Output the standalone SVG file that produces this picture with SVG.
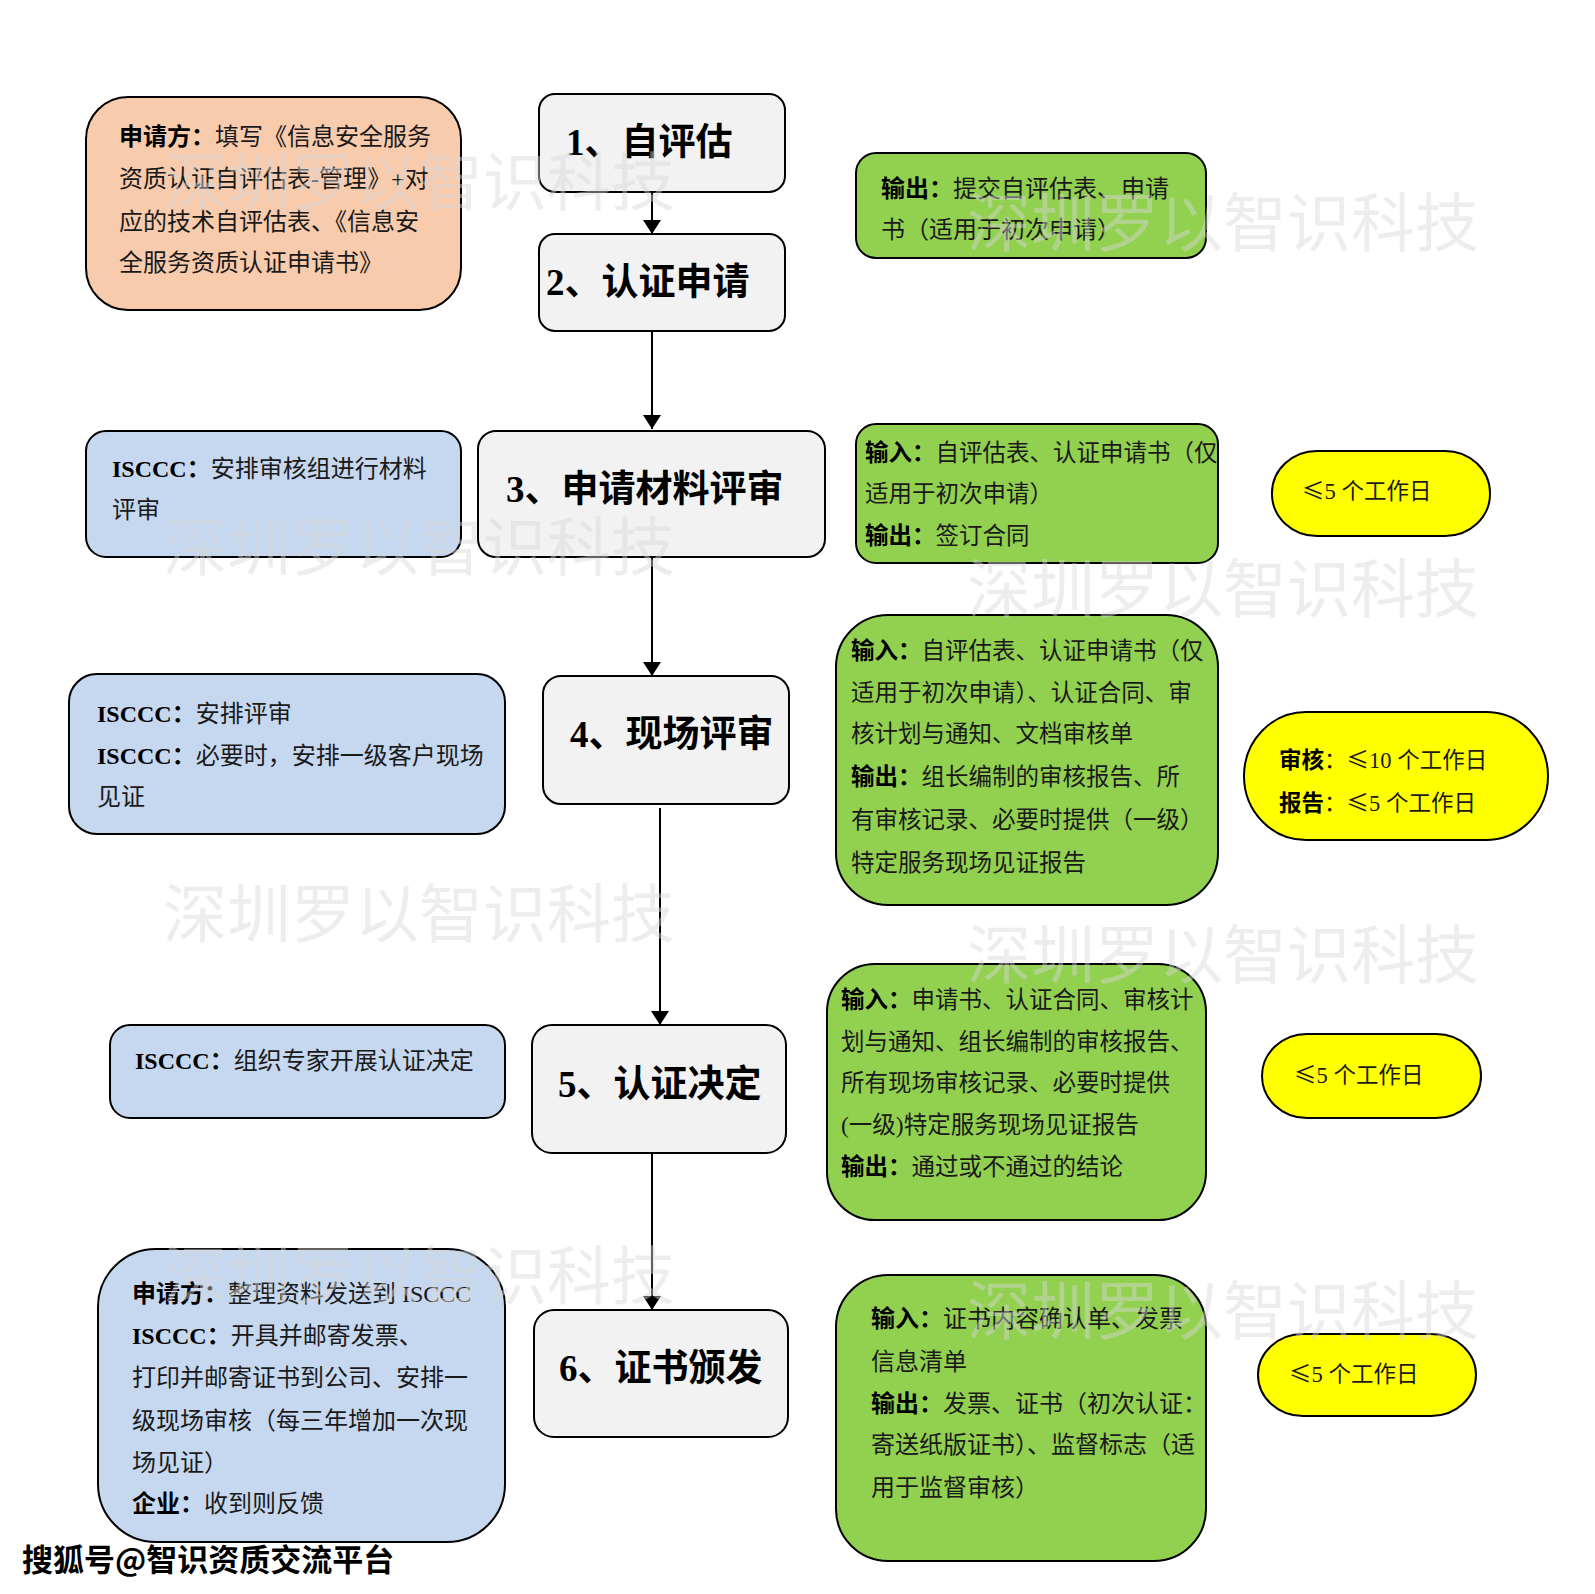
<svg xmlns="http://www.w3.org/2000/svg" width="1595" height="1594" viewBox="0 0 1595 1594">
<defs>
<style>
.bx{stroke:#000;stroke-width:2}
.gray{fill:#F2F2F2}
.org{fill:#F8CBAD}
.blu{fill:#C6D8EF}
.grn{fill:#92D050}
.yel{fill:#FFFF00}
.t{font-family:"Liberation Serif","Noto Sans CJK SC",serif;font-size:24px;fill:#1a1a1a}
.y{font-size:22.5px}
.le{font-family:"Noto Sans CJK SC",sans-serif}
.b{font-weight:bold;fill:#000}
.ttl{font-family:"Liberation Serif","Noto Sans CJK SC",serif;font-size:37px;font-weight:bold;fill:#000}
.wm{font-family:"Noto Sans CJK SC",sans-serif;font-size:64px;fill:#d6d6d6;fill-opacity:0.45}
.ft{font-family:"Noto Sans CJK SC",sans-serif;font-size:31px;font-weight:bold;fill:#000;stroke:#fff;stroke-width:1.2;paint-order:stroke}
.ln{stroke:#000;stroke-width:2;fill:none}
</style>
<marker id="ah" viewBox="0 0 14 18" refX="14" refY="9" markerWidth="14" markerHeight="18" markerUnits="userSpaceOnUse" orient="auto">
<path d="M0,0 L14,9 L0,18 Z" fill="#000"/>
</marker>
</defs>
<rect width="1595" height="1594" fill="#fff"/>

<g id="connectors">
<line class="ln" x1="652" y1="192" x2="652" y2="234" marker-end="url(#ah)"/>
<line class="ln" x1="652" y1="331" x2="652" y2="429" marker-end="url(#ah)"/>
<line class="ln" x1="652" y1="557" x2="652" y2="676" marker-end="url(#ah)"/>
<line class="ln" x1="660" y1="808" x2="660" y2="1025" marker-end="url(#ah)"/>
<line class="ln" x1="652" y1="1153" x2="652" y2="1310" marker-end="url(#ah)"/>
</g>

<g id="n-apply-note">
<rect class="bx org" x="86" y="97" width="375" height="213" rx="42"/>
<text class="t" x="119" y="145"><tspan class="b">申请方：</tspan>填写《信息安全服务</text>
<text class="t" x="119" y="187">资质认证自评估表-管理》+对</text>
<text class="t" x="119" y="230">应的技术自评估表、《信息安</text>
<text class="t" x="119" y="271">全服务资质认证申请书》</text>
</g>

<g id="n-step1">
<rect class="bx gray" x="539" y="94" width="246" height="98" rx="16"/>
<text class="ttl" x="566" y="155">1、自评估</text>
</g>

<g id="n-step2">
<rect class="bx gray" x="539" y="234" width="246" height="97" rx="16"/>
<text class="ttl" x="546" y="295">2、认证申请</text>
</g>

<g id="n-out1">
<rect class="bx grn" x="856" y="153" width="350" height="105" rx="20"/>
<text class="t" x="881" y="197"><tspan class="b">输出：</tspan>提交自评估表、申请</text>
<text class="t" x="881" y="238">书（适用于初次申请）</text>
</g>

<g id="n-isccc3">
<rect class="bx blu" x="86" y="431" width="375" height="126" rx="20"/>
<text class="t" x="112" y="477"><tspan class="b">ISCCC：</tspan>安排审核组进行材料</text>
<text class="t" x="112" y="518">评审</text>
</g>

<g id="n-step3">
<rect class="bx gray" x="478" y="431" width="347" height="126" rx="18"/>
<text class="ttl" x="506" y="502">3、申请材料评审</text>
</g>

<g id="n-io3">
<rect class="bx grn" x="856" y="424" width="362" height="139" rx="20"/>
<text class="t" x="865" y="461" style="font-size:23.5px"><tspan class="b">输入：</tspan>自评估表、认证申请书（仅</text>
<text class="t" x="865" y="502" style="font-size:23.5px">适用于初次申请）</text>
<text class="t" x="865" y="544" style="font-size:23.5px"><tspan class="b">输出：</tspan>签订合同</text>
</g>

<g id="n-time3">
<rect class="bx yel" x="1272" y="451" width="218" height="85" rx="45" ry="42"/>
<text class="t y" x="1302" y="499"><tspan class="le">≤</tspan>5 个工作日</text>
</g>

<g id="n-isccc4">
<rect class="bx blu" x="69" y="674" width="436" height="160" rx="28"/>
<text class="t" x="97" y="722"><tspan class="b">ISCCC：</tspan>安排评审</text>
<text class="t" x="97" y="764"><tspan class="b">ISCCC：</tspan>必要时，安排一级客户现场</text>
<text class="t" x="97" y="805">见证</text>
</g>

<g id="n-step4">
<rect class="bx gray" x="543" y="676" width="246" height="128" rx="18"/>
<text class="ttl" x="570" y="747">4、现场评审</text>
</g>

<g id="n-io4">
<rect class="bx grn" x="836" y="615" width="382" height="290" rx="52"/>
<text class="t" x="851" y="659" style="font-size:23.5px"><tspan class="b">输入：</tspan>自评估表、认证申请书（仅</text>
<text class="t" x="851" y="701" style="font-size:23.5px">适用于初次申请）、认证合同、审</text>
<text class="t" x="851" y="742" style="font-size:23.5px">核计划与通知、文档审核单</text>
<text class="t" x="851" y="785" style="font-size:23.5px"><tspan class="b">输出：</tspan>组长编制的审核报告、所</text>
<text class="t" x="851" y="828" style="font-size:23.5px">有审核记录、必要时提供（一级）</text>
<text class="t" x="851" y="871" style="font-size:23.5px">特定服务现场见证报告</text>
</g>

<g id="n-time4">
<rect class="bx yel" x="1244" y="712" width="304" height="128" rx="62" ry="64"/>
<text class="t y" x="1279" y="768"><tspan class="b">审核</tspan>：<tspan class="le">≤</tspan>10 个工作日</text>
<text class="t y" x="1279" y="811"><tspan class="b">报告</tspan>：<tspan class="le">≤</tspan>5 个工作日</text>
</g>

<g id="n-isccc5">
<rect class="bx blu" x="110" y="1025" width="395" height="93" rx="20"/>
<text class="t" x="135" y="1069"><tspan class="b">ISCCC：</tspan>组织专家开展认证决定</text>
</g>

<g id="n-step5">
<rect class="bx gray" x="532" y="1025" width="254" height="128" rx="20"/>
<text class="ttl" x="558" y="1097">5、认证决定</text>
</g>

<g id="n-io5">
<rect class="bx grn" x="827" y="964" width="379" height="256" rx="48"/>
<text class="t" x="841" y="1008" style="font-size:23.5px"><tspan class="b">输入：</tspan>申请书、认证合同、审核计</text>
<text class="t" x="841" y="1050" style="font-size:23.5px">划与通知、组长编制的审核报告、</text>
<text class="t" x="841" y="1091" style="font-size:23.5px">所有现场审核记录、必要时提供</text>
<text class="t" x="841" y="1133" style="font-size:23.5px">(一级)特定服务现场见证报告</text>
<text class="t" x="841" y="1175" style="font-size:23.5px"><tspan class="b">输出：</tspan>通过或不通过的结论</text>
</g>

<g id="n-time5">
<rect class="bx yel" x="1262" y="1034" width="219" height="84" rx="45" ry="42"/>
<text class="t y" x="1294" y="1083"><tspan class="le">≤</tspan>5 个工作日</text>
</g>

<g id="n-party6">
<rect class="bx blu" x="98" y="1249" width="407" height="293" rx="58"/>
<text class="t" x="132" y="1302"><tspan class="b">申请方：</tspan>整理资料发送到 ISCCC</text>
<text class="t" x="132" y="1344"><tspan class="b">ISCCC：</tspan>开具并邮寄发票、</text>
<text class="t" x="132" y="1386">打印并邮寄证书到公司、安排一</text>
<text class="t" x="132" y="1429">级现场审核（每三年增加一次现</text>
<text class="t" x="132" y="1471">场见证）</text>
<text class="t" x="132" y="1512"><tspan class="b">企业：</tspan>收到则反馈</text>
</g>

<g id="n-step6">
<rect class="bx gray" x="534" y="1310" width="254" height="127" rx="20"/>
<text class="ttl" x="559" y="1381">6、证书颁发</text>
</g>

<g id="n-io6">
<rect class="bx grn" x="836" y="1275" width="370" height="286" rx="52"/>
<text class="t" x="871" y="1327"><tspan class="b">输入：</tspan>证书内容确认单、发票</text>
<text class="t" x="871" y="1370">信息清单</text>
<text class="t" x="871" y="1412"><tspan class="b">输出：</tspan>发票、证书（初次认证：</text>
<text class="t" x="871" y="1453">寄送纸版证书）、监督标志（适</text>
<text class="t" x="871" y="1496">用于监督审核）</text>
</g>

<g id="n-time6">
<rect class="bx yel" x="1258" y="1334" width="218" height="82" rx="45" ry="41"/>
<text class="t y" x="1289" y="1382"><tspan class="le">≤</tspan>5 个工作日</text>
</g>

<g id="watermarks">
<text class="wm" x="163" y="205">深圳罗以智识科技</text>
<text class="wm" x="967" y="246">深圳罗以智识科技</text>
<text class="wm" x="163" y="570">深圳罗以智识科技</text>
<text class="wm" x="967" y="612">深圳罗以智识科技</text>
<text class="wm" x="163" y="937">深圳罗以智识科技</text>
<text class="wm" x="967" y="978">深圳罗以智识科技</text>
<text class="wm" x="163" y="1299">深圳罗以智识科技</text>
<text class="wm" x="967" y="1334">深圳罗以智识科技</text>
</g>

<text class="ft" x="22" y="1571">搜狐号@智识资质交流平台</text>
</svg>
